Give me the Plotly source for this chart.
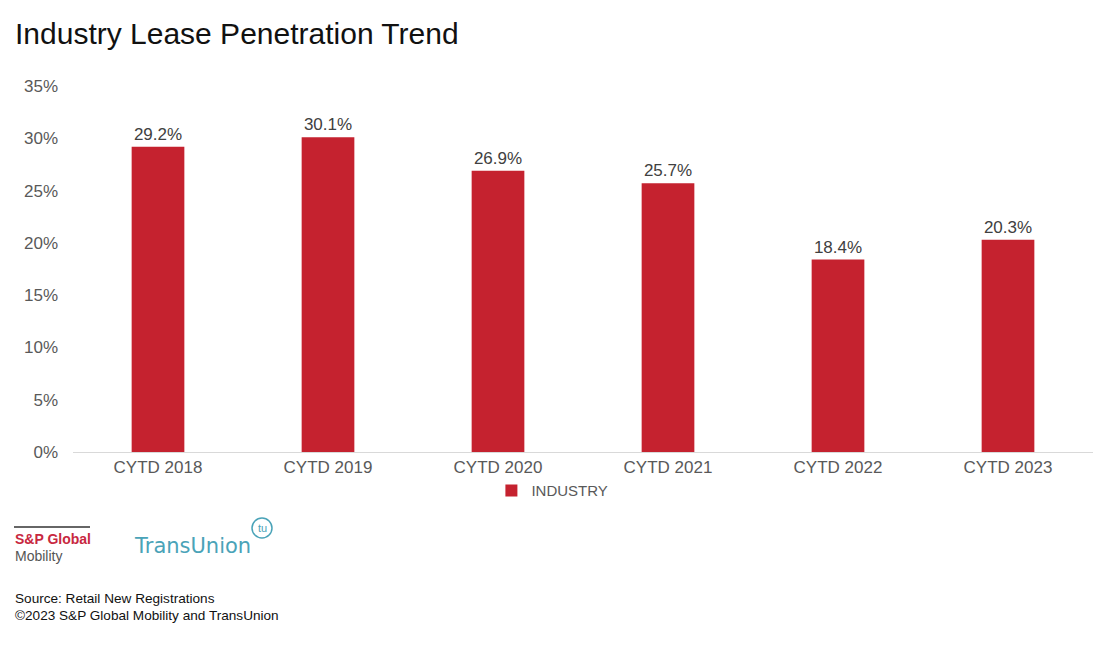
import plotly.graph_objects as go

categories = ["CYTD 2018", "CYTD 2019", "CYTD 2020", "CYTD 2021", "CYTD 2022", "CYTD 2023"]
values = [29.2, 30.1, 26.9, 25.7, 18.4, 20.3]
labels = [f"{v:.1f}%" for v in values]
series_name = "INDUSTRY"
ytick_vals = [0, 5, 10, 15, 20, 25, 30, 35]
ytick_text = [f"{v}%" for v in ytick_vals]

BAR = "#C5222F"
FONT = "Liberation Sans, Arial, sans-serif"

# page body has an 8px margin; figure coords = screen coords - 8
W, H = 1096, 638
L, T, PW, PH = 65, 78, 1020, 366


def px(sx):
    return (sx - 8 - L) / PW


def py(sy):
    return (T + PH - (sy - 8)) / PH


fig = go.Figure()
fig.add_trace(go.Bar(
    x=categories, y=values, name=series_name,
    marker=dict(color=BAR, line=dict(width=0)),
    text=labels, textposition="outside", cliponaxis=False,
    textfont=dict(size=17, color="#404040", family=FONT),
    showlegend=True,
))

fig.update_layout(
    width=W, height=H,
    margin=dict(l=L, r=W - L - PW, t=T, b=H - T - PH),
    paper_bgcolor="white", plot_bgcolor="white",
    bargap=0.69,
    font=dict(family=FONT),
    title=dict(text="Industry Lease Penetration Trend", x=7 / W, xanchor="left",
               y=1 - 25 / H, yanchor="middle", font=dict(size=30, color="#111111", family=FONT)),
    xaxis=dict(showline=True, linecolor="#D9D9D9", linewidth=1, ticks="",
               tickfont=dict(size=17, color="#595959"), showgrid=False),
    yaxis=dict(range=[0, 35], tickvals=ytick_vals, ticktext=ytick_text, showgrid=False,
               zeroline=False, showline=False, ticks="", ticklabelstandoff=14,
               tickfont=dict(size=17, color="#595959")),
    legend=dict(orientation="h", x=0.470, xanchor="center", y=-0.061, yanchor="top",
                font=dict(size=15, color="#595959"), itemwidth=30,
                bgcolor="rgba(0,0,0,0)"),
)

# Logos / footer
fig.add_shape(type="line", xref="paper", yref="paper",
              x0=px(14), x1=px(90), y0=py(527), y1=py(527),
              line=dict(color="#333333", width=1.5))
fig.add_annotation(xref="paper", yref="paper", x=px(13), y=py(539),
                   xanchor="left", yanchor="middle", showarrow=False,
                   text="<b>S&P Global</b>", font=dict(size=14, color="#C8283F", family=FONT))
fig.add_annotation(xref="paper", yref="paper", x=px(13), y=py(556),
                   xanchor="left", yanchor="middle", showarrow=False,
                   text="Mobility", font=dict(size=14, color="#555555", family=FONT))
fig.add_annotation(xref="paper", yref="paper", x=px(132), y=py(546),
                   xanchor="left", yanchor="middle", showarrow=False,
                   text="TransUnion", font=dict(size=21, color="#4AA3B8", family="DejaVu Sans, sans-serif"))
fig.add_shape(type="circle", xref="paper", yref="paper",
              x0=px(252), x1=px(272), y0=py(538), y1=py(518),
              line=dict(color="#4AA3B8", width=1.5))
fig.add_annotation(xref="paper", yref="paper", x=px(262), y=py(528),
                   xanchor="center", yanchor="middle", showarrow=False,
                   text="tu", font=dict(size=11, color="#4AA3B8", family=FONT))
fig.add_annotation(xref="paper", yref="paper", x=px(13), y=py(598),
                   xanchor="left", yanchor="middle", showarrow=False,
                   text="Source: Retail New Registrations", font=dict(size=13.6, color="#111111", family=FONT))
fig.add_annotation(xref="paper", yref="paper", x=px(13), y=py(615),
                   xanchor="left", yanchor="middle", showarrow=False,
                   text="©2023 S&P Global Mobility and TransUnion", font=dict(size=13.6, color="#111111", family=FONT))

fig.write_html("out.html")
